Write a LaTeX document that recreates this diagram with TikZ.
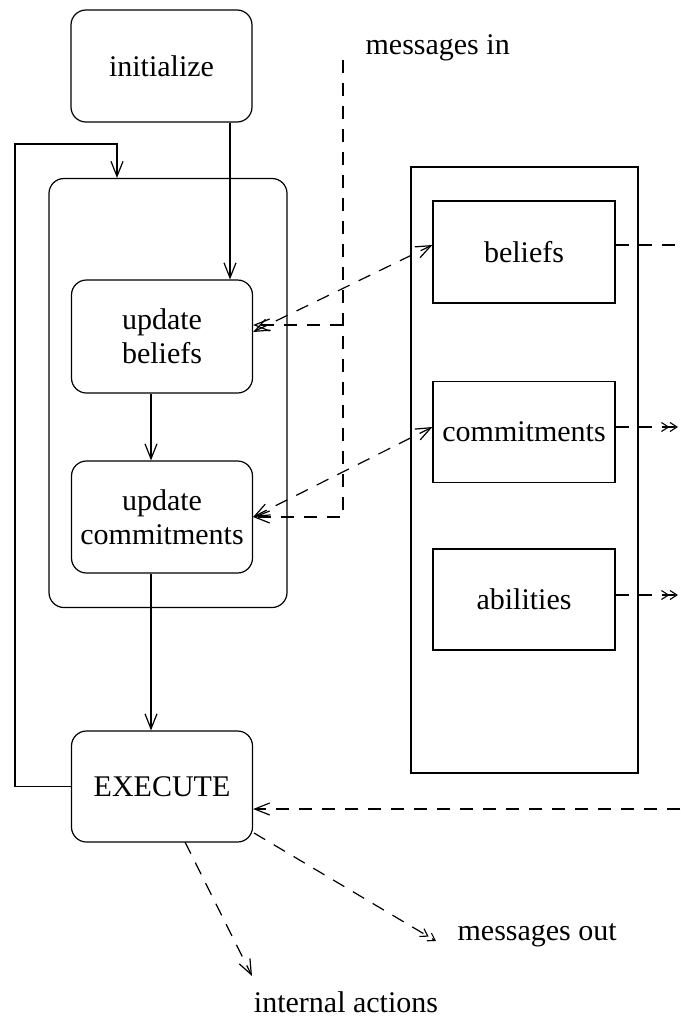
\documentclass[tikz,border=0pt]{standalone}
\usepackage{fontspec}
\setmainfont{Liberation Serif}
\usetikzlibrary{arrows.meta}
\begin{document}
\begin{tikzpicture}[x=1pt,y=-1pt,
  line width=1.2pt,
  every node/.style={font=\fontsize{30}{34}\selectfont},
  rbox/.style={draw,rounded corners=15pt,inner sep=0pt,align=center},
  sbox/.style={draw,inner sep=0pt,align=center},
  arr/.style={-{Straight Barb[length=15pt,width=12pt,line width=1.2pt]}},
  darr/.style={{Straight Barb[length=15pt,width=12pt,line width=1.2pt]}-{Straight Barb[length=15pt,width=12pt,line width=1.2pt]}},
  sarr/.style={-{Straight Barb[length=7pt,width=9pt,line width=1.1pt] Straight Barb[length=7pt,width=9pt,line width=1.1pt]}},
  dsh/.style={dash pattern=on 13pt off 10pt},
  lbl/.style={inner sep=0pt}]
\useasboundingbox (0,0) rectangle (680,1017);

% left side
\node[rbox,minimum width=181pt,minimum height=112pt] (init) at (161.5,66) {initialize};
\node[rbox,minimum width=238pt,minimum height=429pt] (outer) at (168,393) {};
\node[rbox,minimum width=181pt,minimum height=113pt] (ub) at (162,336.5) {update\\beliefs};
\node[rbox,minimum width=181pt,minimum height=112pt] (uc) at (162,517) {update\\commitments};
\node[rbox,minimum width=181pt,minimum height=111pt] (exec) at (162,786.5) {EXECUTE};

% right side
\node[sbox,minimum width=227pt,minimum height=606pt] (mem) at (524.5,470) {};
\node[sbox,minimum width=182pt,minimum height=102pt] (bel) at (524,252) {beliefs};
\node[sbox,minimum width=182pt,minimum height=101pt] (com) at (524,432) {commitments};
\node[sbox,minimum width=182pt,minimum height=101pt] (abi) at (524,599.5) {abilities};

% labels
\node[lbl,anchor=west] (msgin) at (365,48) {messages in};
\node[lbl,anchor=west] (msgout) at (457,935) {messages out};
\node[lbl] (intact) at (346,1002) {internal actions};

% helper coordinates
\coordinate (xa) at (230,0);
\coordinate (xb) at (151,0);
\coordinate (xl) at (15,0);
\coordinate (xt) at (117,144);
\coordinate (mtop) at (343,60);
\coordinate (y325) at (0,325);
\coordinate (y332) at (0,332);
\coordinate (y245) at (0,245);
\coordinate (y427) at (0,427);
\coordinate (y517) at (0,517);
\coordinate (y595) at (0,595);
\coordinate (y809) at (0,809);
\coordinate (redge) at (680,0);
\coordinate (rtip) at (678,0);
\coordinate (ex1) at (185,842);
\coordinate (ex2) at (254,833);
\coordinate (ia) at (252,976);
\coordinate (mo) at (436,941);

% solid control flow
\draw[arr] (init.south -| xa) -- (ub.north -| xa);
\draw[arr] (ub.south -| xb) -- (uc.north -| xb);
\draw[arr] (uc.south -| xb) -- (exec.north -| xb);
\draw[arr] (exec.west) -- (exec.west -| xl) |- (xt) -- (outer.north -| xt);

% messages in
\draw[dsh,arr] (mtop) |- (uc.east |- y517);
\draw[dsh,arr] (mtop |- y325) -- (ub.east |- y325);

% data links
\draw[dsh,darr] (ub.east |- y332) -- (bel.west |- y245);
\draw[dsh,darr] (uc.east |- y517) -- (com.west |- y427);
\draw[dsh] (bel.east |- y245) -- (redge |- y245);
\draw[dsh,sarr] (com.east |- y427) -- (rtip |- y427);
\draw[dsh,sarr] (abi.east |- y595) -- (rtip |- y595);
\draw[dsh,arr] (redge |- y809) -- (exec.east |- y809);

% outputs
\draw[dsh,arr] (ex1) -- (ia);
\draw[dsh,sarr] (ex2) -- (mo);
\end{tikzpicture}
\end{document}
